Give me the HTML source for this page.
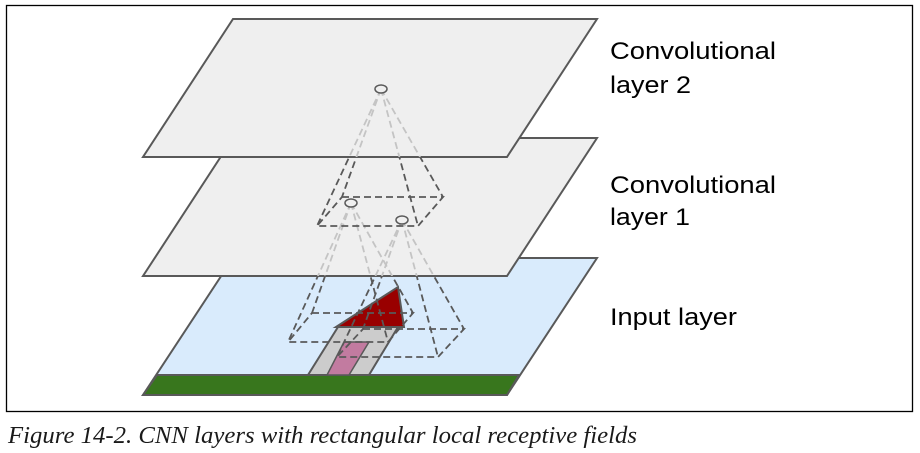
<!DOCTYPE html>
<html><head><meta charset="utf-8"><style>
html,body{margin:0;padding:0;background:#fff;}
svg{display:block;}
</style></head><body>
<svg width="920" height="453" viewBox="0 0 920 453" xmlns="http://www.w3.org/2000/svg">
<defs>
<clipPath id="c1"><polygon points="233,138 597,138 507,276 143,276"/></clipPath>
<clipPath id="c2"><polygon points="233,19 597,19 507,157 143,157"/></clipPath>
</defs>
<rect x="6.5" y="5.5" width="906" height="406" fill="#fff" stroke="#000" stroke-width="1.3"/>
<polygon points="233,258 597,258 507,395 143,395" fill="#d9ebfc" stroke="#595959" stroke-width="2"/>
<polygon points="157,375 519,375 507,395 143,395" fill="#38761d" stroke="#595959" stroke-width="2"/>
<polygon points="338,327 398,327 369,375 308,375" fill="#cccccc" stroke="#595959" stroke-width="2"/>
<polygon points="344,342 369,342 349,375 327,375" fill="#c27ba0" stroke="#595959" stroke-width="1.5"/>
<polygon points="336,327 398,287 404,327" fill="#990000" stroke="#595959" stroke-width="2"/>
<g fill="none" stroke="#595959" stroke-width="1.8" stroke-dasharray="7,4">
<polygon points="312,313 413,313 388,342 288,342"/>
<line x1="351" y1="203" x2="312" y2="313"/><line x1="351" y1="203" x2="413" y2="313"/>
<line x1="351" y1="203" x2="388" y2="342"/><line x1="351" y1="203" x2="288" y2="342"/>
<polygon points="363,329 464,329 438,357 337,357"/>
<line x1="402" y1="220" x2="363" y2="329"/><line x1="402" y1="220" x2="464" y2="329"/>
<line x1="402" y1="220" x2="438" y2="357"/><line x1="402" y1="220" x2="337" y2="357"/>
</g>
<polygon points="233,138 597,138 507,276 143,276" fill="#efefef" stroke="#595959" stroke-width="2"/>
<g clip-path="url(#c1)" fill="none" stroke="#c4c4c4" stroke-width="1.8" stroke-dasharray="7,4">
<line x1="351" y1="203" x2="312" y2="313"/><line x1="351" y1="203" x2="413" y2="313"/>
<line x1="351" y1="203" x2="388" y2="342"/><line x1="351" y1="203" x2="288" y2="342"/>
<line x1="402" y1="220" x2="363" y2="329"/><line x1="402" y1="220" x2="464" y2="329"/>
<line x1="402" y1="220" x2="438" y2="357"/><line x1="402" y1="220" x2="337" y2="357"/>
</g>
<g fill="none" stroke="#595959" stroke-width="1.8" stroke-dasharray="7,4">
<polygon points="342,197 443,197 418,226 317,226"/>
<line x1="381" y1="89" x2="342" y2="197"/><line x1="381" y1="89" x2="443" y2="197"/>
<line x1="381" y1="89" x2="418" y2="226"/><line x1="381" y1="89" x2="317" y2="226"/>
</g>
<ellipse cx="351" cy="203" rx="6" ry="4" fill="#efefef" stroke="#595959" stroke-width="1.5"/>
<ellipse cx="402" cy="220" rx="6" ry="4" fill="#efefef" stroke="#595959" stroke-width="1.5"/>
<polygon points="233,19 597,19 507,157 143,157" fill="#efefef" stroke="#595959" stroke-width="2"/>
<g clip-path="url(#c2)" fill="none" stroke="#c4c4c4" stroke-width="1.8" stroke-dasharray="7,4">
<line x1="381" y1="89" x2="342" y2="197"/><line x1="381" y1="89" x2="443" y2="197"/>
<line x1="381" y1="89" x2="418" y2="226"/><line x1="381" y1="89" x2="317" y2="226"/>
</g>
<ellipse cx="381" cy="89" rx="6" ry="4" fill="#efefef" stroke="#595959" stroke-width="1.5"/>
<g font-family="Liberation Sans, sans-serif" font-size="24" fill="#000">
<text x="610" y="59" textLength="166" lengthAdjust="spacingAndGlyphs">Convolutional</text>
<text x="610" y="93" textLength="81" lengthAdjust="spacingAndGlyphs">layer 2</text>
<text x="610" y="193" textLength="166" lengthAdjust="spacingAndGlyphs">Convolutional</text>
<text x="610" y="225" textLength="80" lengthAdjust="spacingAndGlyphs">layer 1</text>
<text x="610" y="325" textLength="127" lengthAdjust="spacingAndGlyphs">Input layer</text>
</g>
<text x="8" y="443" font-family="Liberation Serif, serif" font-style="italic" font-size="24" fill="#1a1a1a" textLength="629" lengthAdjust="spacingAndGlyphs">Figure 14-2. CNN layers with rectangular local receptive fields</text>
</svg>
</body></html>
